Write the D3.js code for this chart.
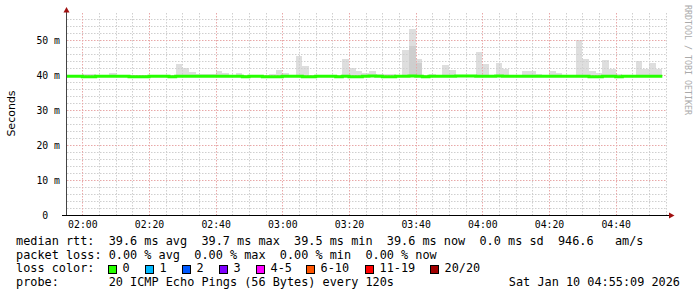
<!DOCTYPE html>
<html>
<head>
<meta charset="utf-8">
<script src="https://cdn.jsdelivr.net/npm/d3@7"></script>
<style>
body { margin: 0; background: #fff; }
text { font-family: "DejaVu Sans Mono", monospace; fill: #000; }
</style>
</head>
<body>
<div id="chart"></div>
<script>
// 2 minute bins, first one starts at 01:54
var binStart = new Date(2026, 0, 10, 1, 54, 0);
var binMinutes = 2;

// median rtt per bin (ms)
var median = [
  39.6,39.6,39.6,39.5,39.5,39.6,39.6,39.6,39.6,39.6,
  39.5,39.5,39.5,39.6,39.6,39.6,39.5,39.6,39.6,39.6,
  39.6,39.6,39.6,39.6,39.6,39.6,39.6,39.5,39.6,39.6,
  39.5,39.5,39.5,39.6,39.6,39.6,39.5,39.5,39.6,39.6,
  39.6,39.5,39.6,39.5,39.5,39.6,39.7,39.6,39.5,39.5,
  39.6,39.6,39.7,39.6,39.5,39.6,39.6,39.6,39.6,39.7,
  39.7,39.7,39.6,39.6,39.6,39.7,39.6,39.6,39.6,39.6,
  39.6,39.6,39.6,39.6,39.6,39.6,39.6,39.6,39.6,39.5,
  39.5,39.6,39.6,39.5,39.6,39.6,39.6,39.6,39.6,39.6
];

// highest ping per bin (ms) -> top of the smoke
var smokeMax = [
  40.0,40.0,40.0,40.3,40.3,40.0,40.1,40.6,40.0,40.0,
  40.0,40.0,40.0,40.0,40.0,40.0,40.0,43.2,42.1,40.9,
  40.3,40.3,40.2,41.2,40.6,40.1,40.6,40.0,40.0,40.0,
  40.0,40.2,41.4,40.6,40.1,45.4,42.6,40.0,40.0,40.0,
  40.0,40.0,44.6,42.0,41.0,40.5,41.1,40.4,40.3,40.3,
  40.1,47.1,53.1,44.6,40.1,40.3,40.1,42.9,41.4,40.0,
  40.0,40.0,46.6,43.1,40.1,43.4,41.7,40.0,40.0,41.1,
  41.1,40.3,40.0,41.1,40.6,40.0,40.0,50.0,44.6,41.1,
  40.6,44.3,41.7,40.3,40.0,40.0,44.0,41.7,43.4,41.7
];

// denser inner smoke
var innerBins = [52, 53];
var innerValues = [48.4, 43.5];

var yTicks = [0, 10, 20, 30, 40, 50];
var lossLabels = ["0", "1", "2", "3", "4-5", "6-10", "11-19", "20/20"];

var legendLines = [
  "median rtt:  39.6 ms avg  39.7 ms max  39.5 ms min  39.6 ms now  0.0 ms sd  946.6   am/s",
  "packet loss: 0.00 % avg  0.00 % max  0.00 % min  0.00 % now",
  "loss color:",
  "probe:       20 ICMP Echo Pings (56 Bytes) every 120s"
];
var stamp = "Sat Jan 10 04:55:09 2026";

var bins = median.map(function(m, i) {
  var s = d3.timeMinute.offset(binStart, i * binMinutes);
  return { start: s, end: d3.timeMinute.offset(s, binMinutes), med: m, max: smokeMax[i] };
});

var W = 697, H = 297;
var pLeft = 67, pRight = 667, pTop = 13, pBottom = 215;

var svg = d3.select("#chart")
  .append("svg")
  .attr("width", W)
  .attr("height", H);

var t0 = new Date(2026, 0, 10, 1, 55, 24),
    t1 = new Date(2026, 0, 10, 4, 55, 24);

var x = d3.scaleTime().domain([t0, t1]).range([pLeft, pRight]);
var y = d3.scaleLinear().domain([0, 57.7]).range([pBottom, pTop]);

svg.append("clipPath").attr("id", "plot")
  .append("rect")
  .attr("x", pLeft).attr("y", pTop)
  .attr("width", pRight - pLeft).attr("height", pBottom - pTop);

var plot = svg.append("g").attr("clip-path", "url(#plot)");

// smoke
plot.selectAll("rect.smoke")
  .data(bins)
  .enter()
  .append("rect")
    .attr("class", "smoke")
    .attr("x", function(d) { return x(d.start) })
    .attr("width", function(d) { return x(d.end) - x(d.start) })
    .attr("y", function(d) { return y(d.max) })
    .attr("height", function(d) { return y(d.med - 0.3) - y(d.max) })
    .style("fill", "#000")
    .style("opacity", 0.13)
    .attr("shape-rendering", "crispEdges");

plot.selectAll("rect.inner")
  .data(innerBins)
  .enter()
  .append("rect")
    .attr("x", function(b) { return x(bins[b].start) })
    .attr("width", function(b) { return x(bins[b].end) - x(bins[b].start) })
    .attr("y", function(b, i) { return y(innerValues[i]) })
    .attr("height", function(b, i) { return y(bins[b].med) - y(innerValues[i]) })
    .style("fill", "#000")
    .style("opacity", 0.07)
    .attr("shape-rendering", "crispEdges");

// grid
var crisp = function(v) { return Math.round(v) + 0.5; };
var minorX = d3.timeMinute.every(5).range(t0, t1);
var majorX = d3.timeMinute.every(20).range(t0, t1);
var minorY = d3.range(2, 57.7, 2).filter(function(v) { return v % 10 != 0 });
var majorY = d3.range(10, 57.7, 10);

var gridLine = function(sel, data, vertical, colour) {
  sel.selectAll(null)
    .data(data)
    .enter().append("line")
      .attr("x1", function(d) { return vertical ? crisp(x(d)) : pLeft })
      .attr("x2", function(d) { return vertical ? crisp(x(d)) : pRight })
      .attr("y1", function(d) { return vertical ? pTop : crisp(y(d)) })
      .attr("y2", function(d) { return vertical ? pBottom : crisp(y(d)) })
      .style("stroke", colour)
      .style("stroke-dasharray", "1.5,1.5");
};
var grid = svg.append("g");
gridLine(grid, minorX.filter(function(t) { return t.getMinutes() % 20 != 0 }), true, "#cfcfcf");
gridLine(grid, minorY, false, "#cfcfcf");
gridLine(grid, majorX, true, "#e8a8a8");
gridLine(grid, majorY, false, "#e8a8a8");

// median line
var pts = bins.map(function(d) { return [d.start, d.med] });
pts.push([bins[bins.length - 1].end, bins[bins.length - 1].med]);
var line = d3.line()
  .x(function(d) { return x(d[0]) })
  .y(function(d) { return y(d[1]) })
  .curve(d3.curveStepAfter);
svg.append("g").attr("clip-path", "url(#plot)")
  .append("path")
    .attr("d", line(pts))
    .style("fill", "none")
    .style("stroke", "#26ff00")
    .style("stroke-width", 3);

// axes
var xAxis = svg.append("g")
  .attr("transform", "translate(0," + pBottom + ")")
  .call(d3.axisBottom(x).ticks(d3.timeMinute.every(20)).tickFormat(d3.timeFormat("%H:%M")).tickSize(0).tickPadding(6));
xAxis.select(".domain").remove();
xAxis.selectAll("text").style("font-size", "9.8px").style("font-family", "DejaVu Sans Mono");

var yAxis = svg.append("g")
  .attr("transform", "translate(60,0)")
  .call(d3.axisLeft(y).tickValues(yTicks).tickSize(0).tickPadding(0)
    .tickFormat(function(d) { return d == 0 ? "0\u00a0\u00a0" : d + " m" }));
yAxis.select(".domain").remove();
yAxis.selectAll("text").style("font-size", "9.8px").style("font-family", "DejaVu Sans Mono");

svg.append("line")
  .attr("x1", 66.5).attr("x2", 66.5).attr("y1", pBottom + 1).attr("y2", 10)
  .style("stroke", "#444");
svg.append("line")
  .attr("x1", 62).attr("x2", 670).attr("y1", pBottom + 0.5).attr("y2", pBottom + 0.5)
  .style("stroke", "#000");
svg.append("path").attr("d", "M63.5,12.5 L69.5,12.5 L66.5,7 Z").style("fill", "#a01010");
svg.append("path").attr("d", "M669,212.5 L669,218.5 L674.5,215.5 Z").style("fill", "#a01010");

// y title and watermark
svg.append("text")
  .attr("transform", "translate(15,113.5) rotate(-90)")
  .attr("text-anchor", "middle")
  .style("font-family", "DejaVu Sans")
  .style("font-size", "11px")
  .text("Seconds");
svg.append("text")
  .attr("transform", "translate(684.5,5) rotate(90)")
  .style("font-size", "8.3px")
  .style("fill", "#aaa")
  .text("RRDTOOL / TOBI OETIKER");

// legend
var lineY = [245, 258.7, 272.3, 286];
svg.selectAll("text.leg")
  .data(legendLines)
  .enter().append("text")
    .attr("x", 16)
    .attr("y", function(d, i) { return lineY[i] })
    .attr("xml:space", "preserve")
    .style("white-space", "pre")
    .style("font-size", "11.85px")
    .text(function(d) { return d });

svg.append("text")
  .attr("x", 680).attr("y", lineY[3])
  .attr("text-anchor", "end")
  .style("font-size", "11.85px")
  .text(stamp);

var lossColor = d3.scaleOrdinal()
  .domain(lossLabels)
  .range(["#26ff00", "#00b8ff", "#0059ff", "#7e00ff", "#ff00ff", "#ff5500", "#ff0000", "#a10000"]);
var boxX = [108.5, 145.5, 182.5, 219.5, 256.5, 306.5, 365.5, 430.5];
var key = svg.selectAll("g.key")
  .data(lossLabels)
  .enter().append("g")
    .attr("transform", function(d, i) { return "translate(" + boxX[i] + ",265.5)" });
key.append("rect")
  .attr("width", 8).attr("height", 8)
  .style("fill", function(d) { return lossColor(d) })
  .style("stroke", "#000");
key.append("text")
  .attr("x", 14).attr("y", lineY[2] - 265.5)
  .style("font-size", "11.85px")
  .text(function(d) { return d });
</script>
</body>
</html>
